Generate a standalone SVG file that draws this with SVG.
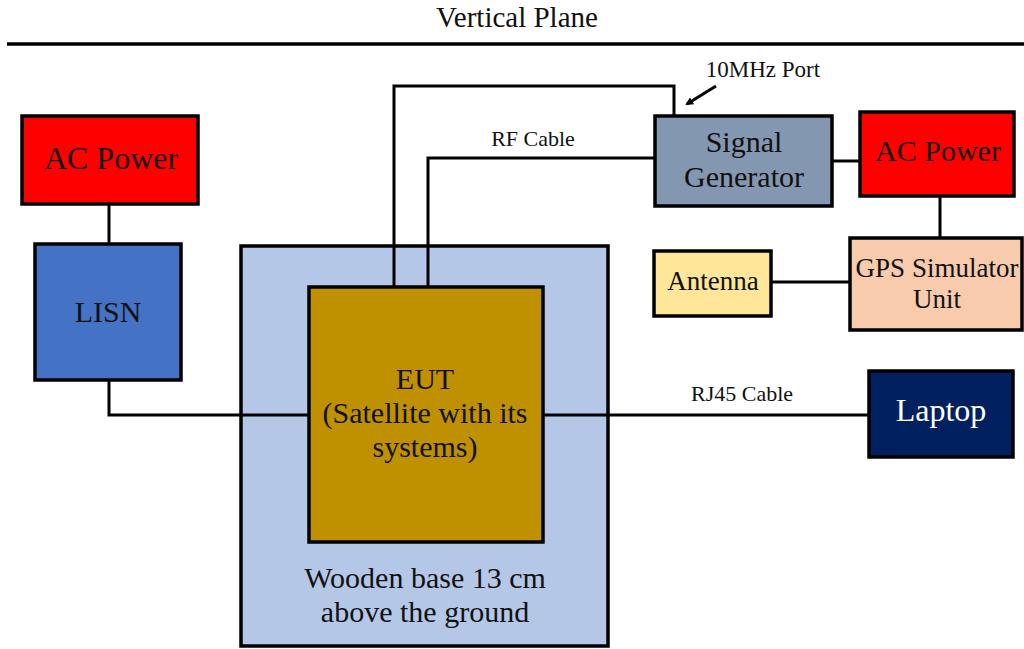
<svg xmlns="http://www.w3.org/2000/svg" width="1024" height="649" viewBox="0 0 1024 649" font-family="'Liberation Serif','Times New Roman',serif">
<style>
text{font-family:"Liberation Serif","Times New Roman",serif;fill:#111;text-anchor:middle}
.box{stroke:#000;stroke-width:3.5}
.w{fill:none;stroke:#000;stroke-width:3}
.lbl{font-size:22px}
</style>
<defs>
<marker id="ah" markerWidth="8" markerHeight="8" refX="6" refY="4" orient="auto" markerUnits="userSpaceOnUse"><path d="M0,0 L8,4 L0,8 z" fill="#000"/></marker>
</defs>
<rect width="1024" height="649" fill="#fff"/>
<text x="517" y="27" font-size="29">Vertical Plane</text>
<line x1="7" y1="44" x2="1024" y2="44" stroke="#000" stroke-width="3.5"/>
<g id="base"><rect class="box" x="241" y="246" width="367" height="400" fill="#B4C7E7"/>
<text x="425" y="588" font-size="30">Wooden base 13 cm</text>
<text x="425" y="622" font-size="30">above the ground</text></g>
<g id="connectors">
<path class="w" d="M109,204 V244"/>
<path class="w" d="M109,380 V415 H309"/>
<path class="w" d="M394,287 V86 H674 V117"/>
<path class="w" d="M428,287 V158 H655"/>
<path class="w" d="M832,161 H860"/>
<path class="w" d="M940,196 V238"/>
<path class="w" d="M771,282 H850"/>
<path class="w" d="M543,415 H869"/>
<path d="M716,86 L687,104" stroke="#000" stroke-width="3" fill="none" marker-end="url(#ah)"/>
<text class="lbl" x="533" y="146">RF Cable</text>
<text class="lbl" x="742" y="401">RJ45 Cable</text>
<text x="763" y="77" font-size="23">10MHz Port</text>
</g>
<g id="ac1"><rect class="box" x="22" y="116" width="176" height="88" fill="#FF0000"/><text x="111" y="169" font-size="32">AC Power</text></g>
<g id="lisn"><rect class="box" x="35" y="244" width="146" height="136" fill="#4472C4"/><text x="108" y="322" font-size="30">LISN</text></g>
<g id="eut"><rect class="box" x="309" y="287" width="234" height="255" fill="#BF9000"/>
<text x="425" y="389" font-size="30">EUT</text>
<text x="425" y="423" font-size="30">(Satellite with its</text>
<text x="425" y="457" font-size="30">systems)</text></g>
<g id="siggen"><rect class="box" x="655" y="116" width="177" height="90" fill="#8497B0"/>
<text x="744" y="152" font-size="30">Signal</text><text x="744" y="187" font-size="30">Generator</text></g>
<g id="ac2"><rect class="box" x="860" y="112" width="154" height="84" fill="#FF0000"/><text x="938" y="161" font-size="30">AC Power</text></g>
<g id="gps"><rect class="box" x="850" y="238" width="172" height="92" fill="#F8CBAD"/>
<text x="937" y="277" font-size="27">GPS Simulator</text><text x="937" y="308" font-size="27">Unit</text></g>
<g id="antenna"><rect class="box" x="654" y="251" width="117" height="65" fill="#FFE699"/><text x="713" y="290" font-size="27">Antenna</text></g>
<g id="laptop"><rect class="box" x="869" y="371" width="144" height="86" fill="#002060"/><text x="941" y="421" font-size="32" style="fill:#fff">Laptop</text></g>
</svg>
